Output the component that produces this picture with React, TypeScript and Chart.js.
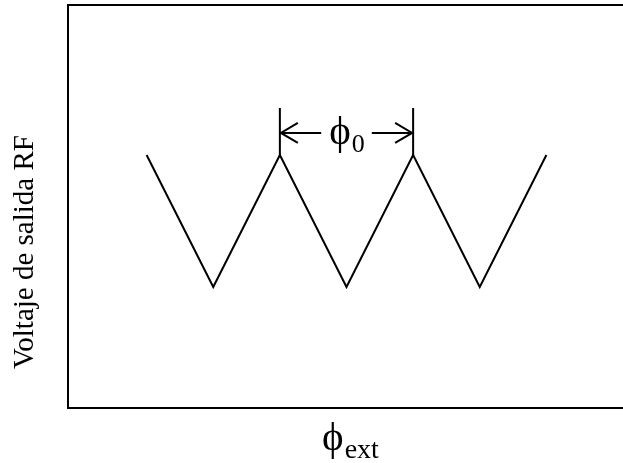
import React, { useEffect, useRef } from "react";
import { Chart, registerables } from "chart.js";

Chart.register(...registerables);

// Phase in units of phi_0, output voltage (arbitrary units)
const phaseValues = [0, 0.5, 1, 1.5, 2, 2.5, 3];
const voltageValues = [1, 0, 1, 0, 1, 0, 1];
const yAxisTitle = "Voltaje de salida RF";
const xAxisSymbol = "ϕ";
const xAxisSub = "ext";
const periodSymbol = "ϕ";
const periodSub = "0";
const periodStart = 1;
const periodEnd = 2;

const SERIF = "'Liberation Serif', 'Times New Roman', serif";

const annotationPlugin = {
  id: "annot",
  afterDraw(chart: any) {
    const ctx = chart.ctx;
    const xs = chart.scales.x;
    const ys = chart.scales.y;
    const area = chart.chartArea;
    ctx.save();
    ctx.strokeStyle = "#000";
    ctx.fillStyle = "#000";
    ctx.lineWidth = 2;
    // top border
    ctx.beginPath();
    ctx.moveTo(area.left - 1, area.top);
    ctx.lineTo(chart.width, area.top);
    ctx.stroke();

    const peakY = ys.getPixelForValue(1);
    const x1 = xs.getPixelForValue(periodStart);
    const x2 = xs.getPixelForValue(periodEnd);
    const tickTop = peakY - 47;
    const arrowY = peakY - 22;
    ctx.beginPath();
    ctx.moveTo(x1, peakY);
    ctx.lineTo(x1, tickTop);
    ctx.moveTo(x2, peakY);
    ctx.lineTo(x2, tickTop);
    ctx.stroke();

    // label
    const mid = (x1 + x2) / 2;
    ctx.font = `41px ${SERIF}`;
    const wPhi = ctx.measureText(periodSymbol).width;
    ctx.font = `26px ${SERIF}`;
    const wSub = ctx.measureText(periodSub).width;
    const total = wPhi + wSub;
    const lx = mid - total / 2;
    ctx.textBaseline = "alphabetic";
    ctx.textAlign = "left";
    ctx.font = `41px ${SERIF}`;
    ctx.fillText(periodSymbol, lx, arrowY + 11);
    ctx.font = `26px ${SERIF}`;
    ctx.fillText(periodSub, lx + wPhi + 1, arrowY + 19);

    const gap = 8;
    ctx.lineWidth = 2;
    ctx.beginPath();
    ctx.moveTo(x1, arrowY);
    ctx.lineTo(lx - gap, arrowY);
    ctx.moveTo(lx + total + gap, arrowY);
    ctx.lineTo(x2, arrowY);
    // arrowheads
    ctx.moveTo(x1 + 18, arrowY - 10);
    ctx.lineTo(x1 + 1, arrowY);
    ctx.lineTo(x1 + 18, arrowY + 10);
    ctx.moveTo(x2 - 18, arrowY - 10);
    ctx.lineTo(x2 - 1, arrowY);
    ctx.lineTo(x2 - 18, arrowY + 10);
    ctx.stroke();

    // y axis title
    ctx.save();
    ctx.translate(33, 252);
    ctx.rotate(-Math.PI / 2);
    ctx.font = `29px ${SERIF}`;
    ctx.textAlign = "center";
    ctx.textBaseline = "alphabetic";
    ctx.fillText(yAxisTitle, 0, 0);
    ctx.restore();

    // x axis title
    ctx.font = `41px ${SERIF}`;
    const wx = ctx.measureText(xAxisSymbol).width;
    ctx.font = `28px ${SERIF}`;
    const wxs = ctx.measureText(xAxisSub).width;
    const tx = 350 - (wx + wxs) / 2;
    ctx.textAlign = "left";
    ctx.font = `41px ${SERIF}`;
    ctx.fillText(xAxisSymbol, tx, 450);
    ctx.font = `28px ${SERIF}`;
    ctx.fillText(xAxisSub, tx + wx + 1, 458);
    ctx.restore();
  },
};

export default function App() {
  const ref = useRef<HTMLCanvasElement>(null);
  useEffect(() => {
    document.body.style.margin = "0";
    const canvas = ref.current!;
    const chart = new Chart(canvas, {
      type: "line",
      data: {
        datasets: [
          {
            data: phaseValues.map((x, i) => ({ x, y: voltageValues[i] })),
            borderColor: "#000",
            borderWidth: 2,
            pointRadius: 0,
            tension: 0,
            fill: false,
          },
        ],
      },
      options: {
        animation: false,
        responsive: false,
        events: [],
        layout: { padding: { left: 60, top: 5, right: 0, bottom: 47 } },
        plugins: { legend: { display: false }, tooltip: { enabled: false } },
        scales: {
          x: {
            type: "linear",
            min: -0.59,
            max: 3.575,
            grid: { display: false },
            ticks: { display: false },
            border: { display: true, color: "#000", width: 2 },
          },
          y: {
            min: -0.917,
            max: 2.136,
            grid: { display: false },
            ticks: { display: false },
            border: { display: true, color: "#000", width: 2 },
          },
        },
      },
      plugins: [annotationPlugin],
    });
    return () => chart.destroy();
  }, []);
  return <canvas ref={ref} width={623} height={463} style={{ display: "block" }} />;
}
